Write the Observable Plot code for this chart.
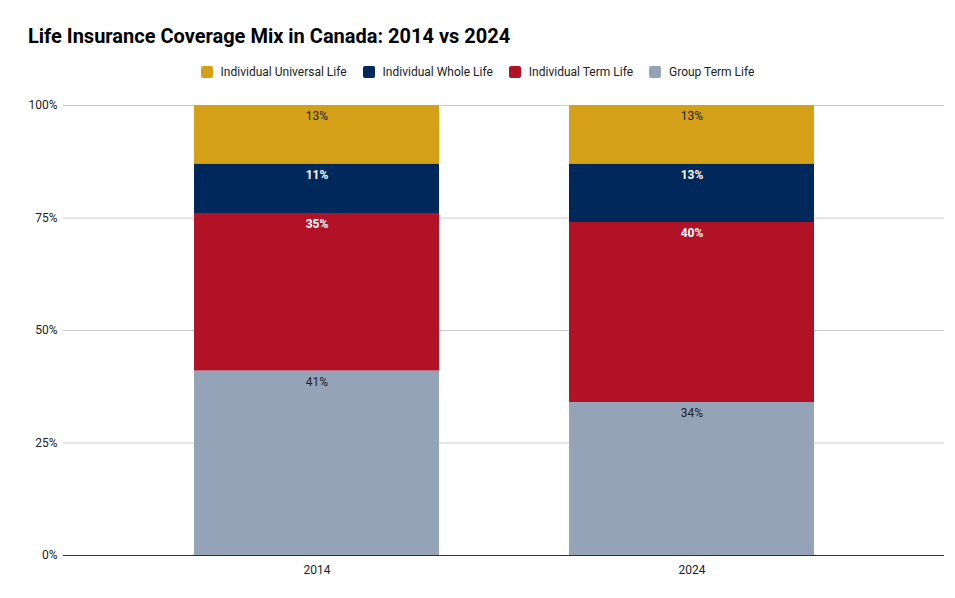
<!DOCTYPE html>
<html><head>
<script src="https://cdn.jsdelivr.net/npm/d3@7"></script>
<script src="https://cdn.jsdelivr.net/npm/@observablehq/plot@0.6"></script>
<style>
body{margin:0;font-family:Roboto,Arial,sans-serif;background:#fff}
#wrap{position:relative;width:955px;height:598px}
#title{position:absolute;left:28px;top:24px;font-size:20px;font-weight:bold;color:#000}
#legend{position:absolute;top:65px;left:0;width:955px;display:flex;justify-content:center;gap:16px;font-size:12px;color:#222}
#legend span{display:inline-flex;align-items:center}
#legend i{display:inline-block;width:12px;height:12px;border-radius:2px;margin-right:8px}
#chart{position:absolute;left:0;top:0}
</style></head><body>
<div id="wrap"><div id="chart"></div><div id="title">Life Insurance Coverage Mix in Canada: 2014 vs 2024</div><div id="legend"></div></div>
<script>
const years = ["2014","2024"];
const categories = ["Group Term Life","Individual Term Life","Individual Whole Life","Individual Universal Life"];
const colors = ["#94a3b8","#b11226","#00285a","#d4a017"];
const labelColors = ["#222","#fff","#fff","#222"];
const labelWeights = ["normal","bold","bold","normal"];
const values2014 = [41,35,11,13];
const values2024 = [34,40,13,13];
const yTicks = [0,25,50,75,100];

const series = {"2014":values2014,"2024":values2024};
const data = [];
for (const y of years){ let c=0; categories.forEach((k,i)=>{ const v=series[y][i]; data.push({year:y,cat:k,v,y1:c,y2:c+v,i}); c+=v; }); }

const leg = document.getElementById("legend");
[3,2,1,0].forEach(i=>{ const s=document.createElement("span"); s.innerHTML=`<i style="background:${colors[i]}"></i>${categories[i]}`; leg.appendChild(s); });

const plot = Plot.plot({
  width:955,height:598,marginTop:105,marginBottom:43,marginLeft:63,marginRight:11,
  style:{fontFamily:"Roboto,Arial,sans-serif",fontSize:"12px",color:"#222"},
  x:{domain:years,padding:0.347,label:null,tickSize:0,tickPadding:10},
  y:{domain:[0,100],ticks:yTicks,tickFormat:d=>d+"%",label:null,tickSize:0,tickPadding:6},
  color:{domain:categories,range:colors},
  marks:[
    Plot.gridY(yTicks,{stroke:"#ccc",strokeOpacity:1}),
    Plot.rectY(data,{x:"year",y1:"y1",y2:"y2",fill:"cat"}),
    Plot.ruleY([0],{stroke:"#333"}),
    ...[0,1,2,3].map(i=>Plot.text(data.filter(d=>d.i===i),{x:"year",y:"y2",text:d=>d.v+"%",dy:11,fill:labelColors[i],fontWeight:labelWeights[i],fontSize:12}))
  ]
});
document.getElementById("chart").appendChild(plot);
</script></body></html>
